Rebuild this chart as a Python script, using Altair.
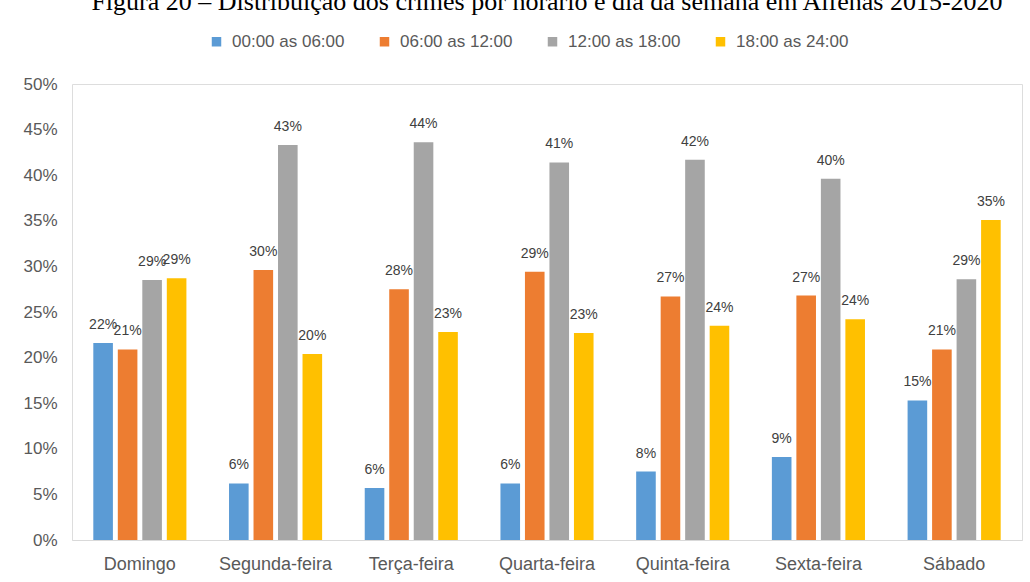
import altair as alt
import pandas as pd

dias = ["Domingo", "Segunda-feira", "Terça-feira", "Quarta-feira",
        "Quinta-feira", "Sexta-feira", "Sábado"]
faixas = ["00:00 as 06:00", "06:00 as 12:00", "12:00 as 18:00", "18:00 as 24:00"]
cores = ["#5B9BD5", "#ED7D31", "#A5A5A5", "#FFC000"]

v_00_06 = [21.6, 6.2, 5.7, 6.2, 7.5, 9.1, 15.3]
v_06_12 = [20.9, 29.6, 27.5, 29.4, 26.7, 26.8, 20.9]
v_12_18 = [28.5, 43.3, 43.6, 41.4, 41.7, 39.6, 28.6]
v_18_24 = [28.7, 20.4, 22.8, 22.7, 23.5, 24.2, 35.1]

series = [v_00_06, v_06_12, v_12_18, v_18_24]
rows = []
for f, vals in zip(faixas, series):
    for d, v in zip(dias, vals):
        rows.append({"dia": d, "faixa": f, "valor": v})
df = pd.DataFrame(rows)

FONT = "Liberation Sans"

x = alt.X("dia:N", sort=dias, title=None,
          scale=alt.Scale(paddingInner=0.314, paddingOuter=0.157),
          axis=alt.Axis(labelAngle=0, labelFont=FONT, labelFontSize=18,
                        labelColor="#595959", domainColor="#D9D9D9",
                        domainWidth=1, ticks=False, tickSize=0,
                        labelPadding=15))
xo = alt.XOffset("faixa:N", sort=faixas,
                 scale=alt.Scale(paddingInner=0.2, paddingOuter=0))
y = alt.Y("valor:Q", title=None,
          scale=alt.Scale(domain=[0, 50], nice=False),
          axis=alt.Axis(values=[0, 5, 10, 15, 20, 25, 30, 35, 40, 45, 50],
                        labelExpr="datum.value + '%'", grid=False,
                        domain=False, ticks=False, tickSize=0,
                        labelFont=FONT, labelFontSize=17,
                        labelColor="#595959", labelPadding=15))
color = alt.Color("faixa:N", sort=faixas,
                  scale=alt.Scale(domain=faixas, range=cores),
                  legend=alt.Legend(title=None, orient="none",
                                    legendX=136, legendY=-51,
                                    direction="horizontal", columns=4,
                                    symbolType="square", symbolSize=90,
                                    symbolStrokeWidth=0, labelFont=FONT,
                                    labelFontSize=17, labelColor="#595959",
                                    labelOffset=7, columnPadding=31))

bars = alt.Chart(df).mark_bar().encode(x=x, xOffset=xo, y=y, color=color)

labels = alt.Chart(df).transform_calculate(
    rotulo="round(datum.valor) + '%'"
).mark_text(baseline="bottom", dy=-11, font=FONT, fontSize=14,
            color="#404040").encode(x=x, xOffset=xo, y=y,
                                    text="rotulo:N")

chart = alt.layer(bars, labels).properties(
    width=950, height=456,
    title=alt.TitleParams(
        "Figura 20 – Distribuição dos crimes por horário e dia da semana em Alfenas 2015-2020",
        font="Liberation Serif", fontSize=26, fontWeight="normal",
        color="#000000", anchor="middle", dy=-14),
    autosize=alt.AutoSizeParams(type="none"),
    padding={"left": 72, "top": 84, "right": 8, "bottom": 42},
).configure_view(stroke=None).configure(background="white")

chart.save("out.html", embed_options={"renderer": "svg", "actions": False})
